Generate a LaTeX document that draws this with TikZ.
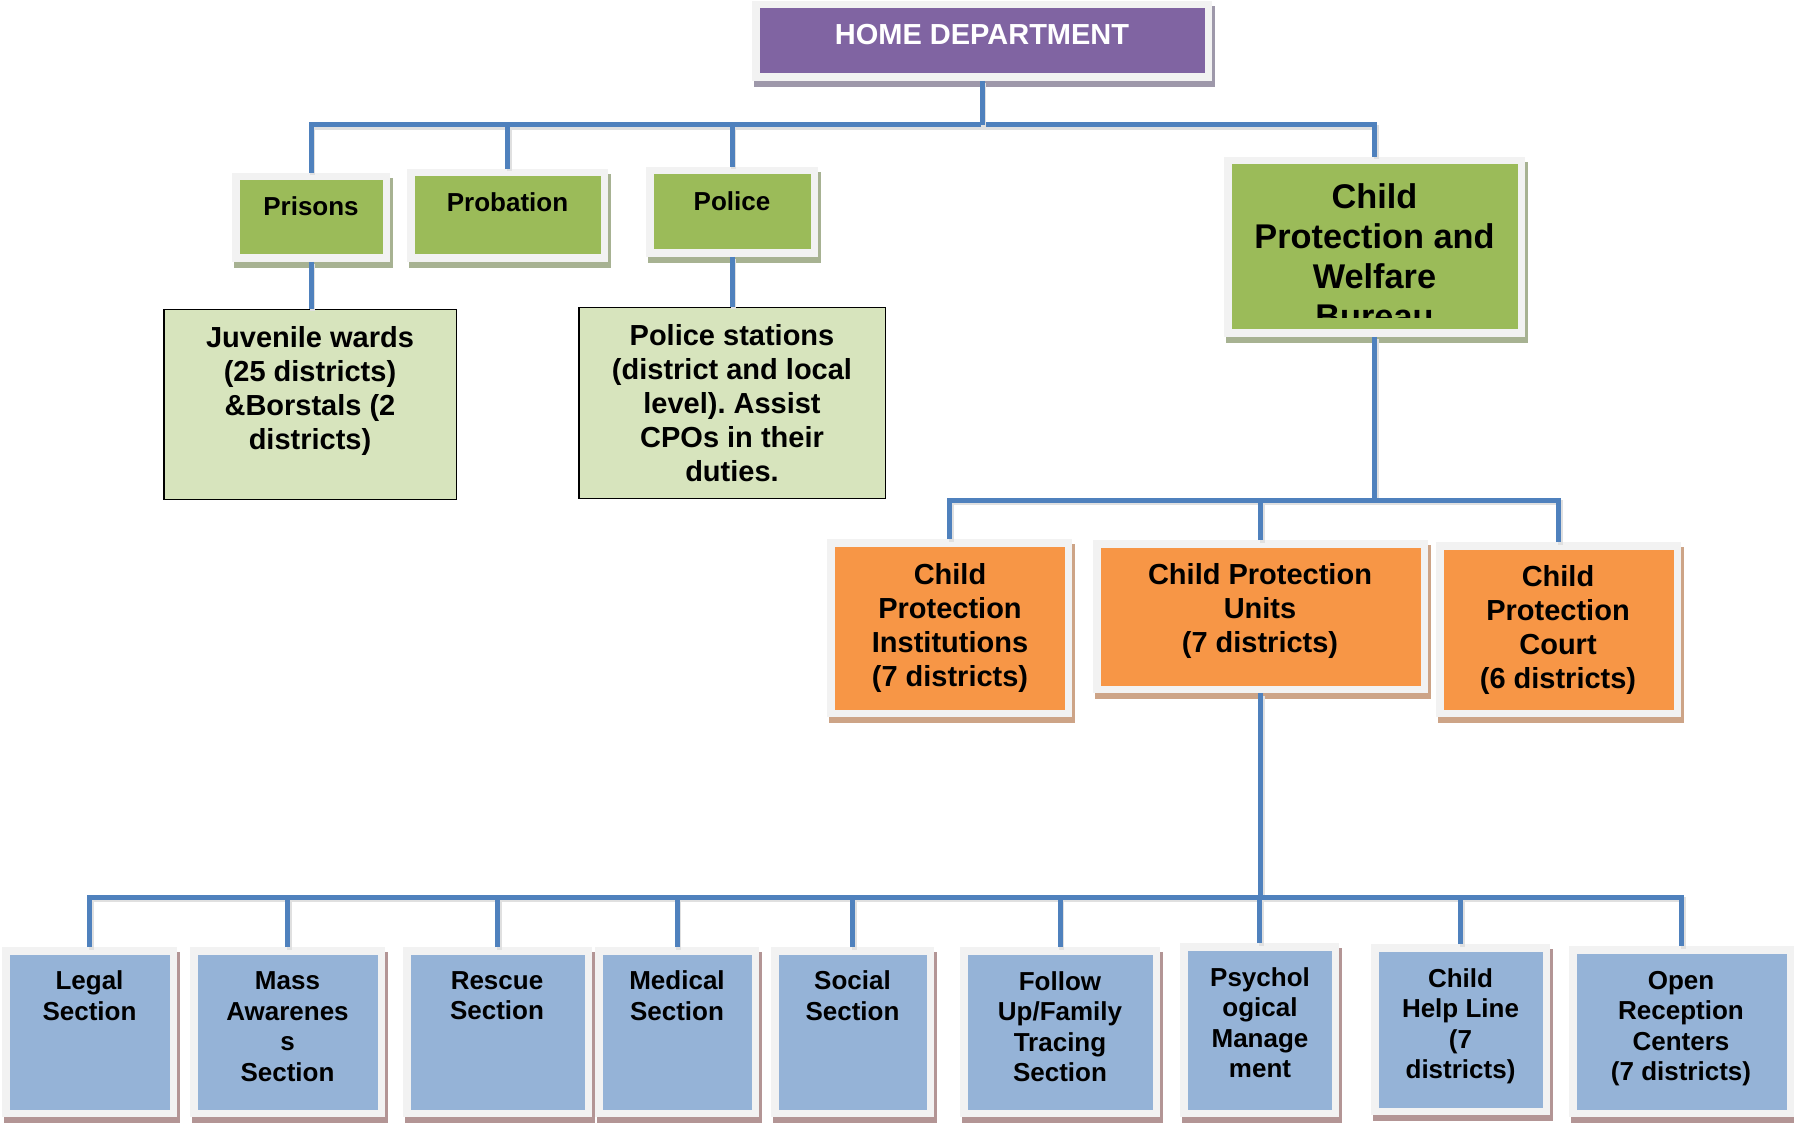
\documentclass[tikz,border=0pt]{standalone}
\usepackage{fontspec}
\setmainfont{Liberation Sans}
\frenchspacing
\usetikzlibrary{calc}

\definecolor{purplebox}{HTML}{8064A2}
\definecolor{greenbox}{HTML}{9BBB59}
\definecolor{palegreen}{HTML}{D7E4BD}
\definecolor{orangebox}{HTML}{F79646}
\definecolor{bluebox}{HTML}{95B3D7}
\definecolor{linkblue}{HTML}{4F81BD}
\definecolor{framegray}{HTML}{F2F2F2}
\definecolor{shpurple}{HTML}{9E98AA}
\definecolor{shgreen}{HTML}{A7B292}
\definecolor{shorange}{HTML}{CDA487}
\definecolor{shblue}{HTML}{B39595}

\tikzset{
  framed/.style={draw=framegray, line width=7.5pt, inner sep=0pt},
  plainbox/.style={draw=black, line width=1.5pt, fill=palegreen, inner sep=0pt},
  link/.style={draw=linkblue, line width=5pt, line join=miter,
    preaction={draw=black!12, line width=5pt, transform canvas={shift={(1.5,2.5)}}}},
  lbl/.style={align=center, inner sep=0pt,
    execute at begin node=\strut, execute at end node=\strut},
  lblsmall/.style={lbl, font=\bfseries\fontsize{26}{30}\selectfont},
  lblbottom/.style={lbl, font=\bfseries\fontsize{26}{30.5}\selectfont},
  lblmid/.style={lbl, font=\bfseries\fontsize{29}{34}\selectfont},
  lblbig/.style={lbl, font=\bfseries\fontsize{34.3}{40}\selectfont},
}

% framed box: name, x0, y0, x1, y1 (outer frame), fill colour, shadow colour
\newcommand\framedbox[7]{%
  \fill[#7] ({#2+2},{#3+5}) rectangle ({#4+3},{#5+6});
  \node[framed, fill=#6, minimum width={(#4-#2-7.5)*1pt},
        minimum height={(#5-#3-7.5)*1pt}] (#1) at ({(#2+#4)/2},{(#3+#5)/2}) {};
}

\begin{document}
\begin{tikzpicture}[x=1pt, y=-1pt]
\useasboundingbox (0,0) rectangle (1794,1123);

% top level
\framedbox{home}{752}{1}{1212}{81}{purplebox}{shpurple}
\node[lblmid, text=white] (home-t) at (982,37.5) {HOME DEPARTMENT};

% second level
\framedbox{prisons}{232}{173}{390}{262}{greenbox}{shgreen}
\node[lblsmall] (prisons-t) at (311,210) {Prisons};
\framedbox{probation}{407}{169}{608}{262}{greenbox}{shgreen}
\node[lblsmall] (probation-t) at (507.5,206) {Probation};
\framedbox{police}{646}{167}{818}{257}{greenbox}{shgreen}
\node[lblsmall] (police-t) at (732,204.5) {Police};
\framedbox{bureau}{1224}{157}{1525}{337}{greenbox}{shgreen}
\begin{scope}
  \clip (1232,165) rectangle (1517,318);
  \node[lblbig] (bureau-t) at (1374.5,261.8) {Child\\Protection and\\Welfare\\Bureau};
\end{scope}

% field units
\node[plainbox, minimum width=292.5pt, minimum height=189.5pt] (juvenile) at (310,404.5) {};
\node[lblmid] (juvenile-t) at (310,392.6) {Juvenile wards\\(25 districts)\\\&Borstals (2\\districts)};
\node[plainbox, minimum width=306.5pt, minimum height=190.5pt] (stations) at (732,403) {};
\node[lblmid] (stations-t) at (732,408) {Police stations\\(district and local\\level). Assist\\CPOs in their\\duties.};

% bureau branches
\framedbox{cpi}{827}{539}{1072}{717}{orangebox}{shorange}
\node[lblmid] (cpi-t) at (950,629.6) {Child\\Protection\\Institutions\\(7 districts)};
\framedbox{cpu}{1093}{540}{1428}{693}{orangebox}{shorange}
\node[lblmid] (cpu-t) at (1260,612.6) {Child Protection\\Units\\(7 districts)};
\framedbox{cpc}{1436}{542}{1681}{717}{orangebox}{shorange}
\node[lblmid] (cpc-t) at (1558,632) {Child\\Protection\\Court\\(6 districts)};

% sections of the units
\framedbox{legal}{2}{947}{177}{1117}{bluebox}{shblue}
\node[lblbottom] (legal-t) at (89.5,1000.3) {Legal\\Section};
\framedbox{mass}{190}{947}{385}{1117}{bluebox}{shblue}
\node[lblbottom] (mass-t) at (287.5,1031) {Mass\\Awarenes\\s\\Section};
\framedbox{rescue}{403}{947}{592}{1117}{bluebox}{shblue}
\node[lblbottom] (rescue-t) at (497,1000.3) {Rescue\\Section};
\framedbox{medical}{595}{947}{759}{1117}{bluebox}{shblue}
\node[lblbottom] (medical-t) at (677,1000.3) {Medical\\Section};
\framedbox{social}{771}{947}{934}{1117}{bluebox}{shblue}
\node[lblbottom] (social-t) at (852.5,1000.3) {Social\\Section};
\framedbox{follow}{960}{947}{1160}{1117}{bluebox}{shblue}
\node[lblbottom] (follow-t) at (1060,1031) {Follow\\Up/Family\\Tracing\\Section};
\framedbox{psych}{1180}{943}{1339}{1117}{bluebox}{shblue}
\node[lblbottom] (psych-t) at (1260,1027) {Psychol\\ogical\\Manage\\ment};
\framedbox{helpline}{1371}{944}{1550}{1115}{bluebox}{shblue}
\node[lblbottom] (helpline-t) at (1460.5,1028) {Child\\Help Line\\(7\\districts)};
\framedbox{reception}{1569}{946}{1794}{1117}{bluebox}{shblue}
\node[lblbottom] (reception-t) at (1681,1030.5) {Open\\Reception\\Centers\\(7 districts)};

% bus levels
\coordinate (busA) at (0,125);
\coordinate (busB) at (0,500);
\coordinate (busC) at (0,897);

% connectors
\draw[link] (prisons.north) -- (prisons.north |- busA) -| (bureau.north);
\foreach \n in {home} \draw[link] (\n.south) -- (\n.south |- busA);
\foreach \n in {probation,police} \draw[link] (\n.north) -- (\n.north |- busA);
\draw[link] (prisons.south) -- (prisons.south |- juvenile.north);
\draw[link] (police.south) -- (police.south |- stations.north);

\draw[link] (bureau.south) -- (bureau.south |- busB);
\draw[link] (cpi.north) -- (cpi.north |- busB) -| (cpc.north);
\draw[link] (cpu.north) -- (cpu.north |- busB);

\draw[link] (cpu.south) -- (cpu.south |- busC);
\draw[link] (legal.north) -- (legal.north |- busC) -| (reception.north);
\foreach \n in {mass,rescue,medical,social,follow,psych,helpline}
  \draw[link] (\n.north) -- (\n.north |- busC);
\end{tikzpicture}
\end{document}
